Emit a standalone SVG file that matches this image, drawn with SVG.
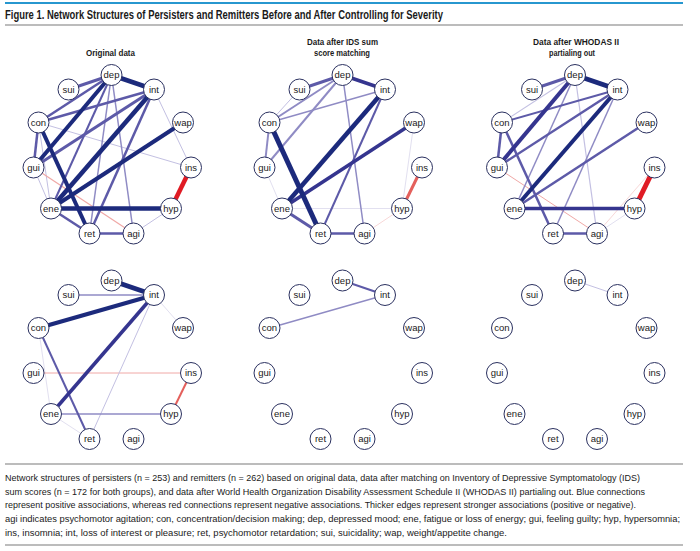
<svg xmlns="http://www.w3.org/2000/svg" width="700" height="551" viewBox="0 0 700 551">
<defs>
<style>
.bg{fill:#ffffff}
.title{font-family:"Liberation Sans Narrow","Liberation Sans",Arial,sans-serif;font-weight:bold;font-size:12px;fill:#1a1a1a}
.head{font-family:"Liberation Sans Narrow","Liberation Sans",Arial,sans-serif;font-weight:bold;font-size:9.5px;fill:#1a1a1a;text-anchor:middle}
.cap{font-family:"Liberation Sans Narrow","Liberation Sans",Arial,sans-serif;font-size:9px;fill:#1a1a1a}
.node circle{fill:#ffffff;stroke:#2b3160;stroke-width:1}
.node text{font-family:"Liberation Sans Narrow","Liberation Sans",Arial,sans-serif;font-size:9.5px;fill:#1a1a1a;text-anchor:middle}
.connectors line{fill:none;stroke-linecap:butt}
.e1{stroke:#1c2a7c}
.e2{stroke:#35358f}
.e3{stroke:#5d5aa8}
.e4{stroke:#8f8bc4}
.e5{stroke:#c3c0e2}
.e6{stroke:#e2e0f0}
.r1{stroke:#e01b24}
.r2{stroke:#e4605c}
.r3{stroke:#f0a8a6}
.r4{stroke:#f8d8d8}
.rule{stroke:#7a7a7a;stroke-width:1.2}
</style>
</defs>
<rect class="bg" x="0" y="0" width="700" height="551"/>
<line x1="5" y1="3" x2="683" y2="3" stroke="#2797cf" stroke-width="2"/>
<text class="title" x="5" y="18.5" textLength="438" lengthAdjust="spacingAndGlyphs">Figure 1. Network Structures of Persisters and Remitters Before and After Controlling for Severity</text>
<line class="rule" x1="5" y1="25" x2="683" y2="25" stroke-width="1.5"/>
<text class="head" x="110.5" y="56" textLength="49" lengthAdjust="spacingAndGlyphs">Original data</text>
<text class="head" x="342.5" y="45" textLength="71" lengthAdjust="spacingAndGlyphs">Data after IDS sum</text>
<text class="head" x="342" y="56" textLength="56" lengthAdjust="spacingAndGlyphs">score matching</text>
<text class="head" x="576" y="45" textLength="86" lengthAdjust="spacingAndGlyphs">Data after WHODAS II</text>
<text class="head" x="572" y="56" textLength="46" lengthAdjust="spacingAndGlyphs">partialing out</text>

<!-- Network 1: original data, persisters -->
<g id="net1" transform="translate(0,0)">
<g class="connectors">
<line class="e5" x1="154" y1="89.5" x2="191" y2="167.5" stroke-width="1"/>
<line class="e5" x1="38.5" y1="122.5" x2="191" y2="167.5" stroke-width="1"/>
<line class="e5" x1="38.5" y1="122.5" x2="51" y2="208.5" stroke-width="1"/>
<line class="e5" x1="33.5" y1="167.5" x2="51" y2="208.5" stroke-width="1"/>
<line class="e5" x1="171" y1="208.5" x2="133.5" y2="233.5" stroke-width="1"/>
<line class="r3" x1="33.5" y1="167.5" x2="133.5" y2="233.5" stroke-width="1.2"/>
<line class="e4" x1="111.5" y1="75" x2="133.5" y2="233.5" stroke-width="1.5"/>
<line class="e4" x1="111.5" y1="75" x2="89.5" y2="233.5" stroke-width="1.5"/>
<line class="e3" x1="111.5" y1="75" x2="51" y2="208.5" stroke-width="2"/>
<line class="e3" x1="111.5" y1="75" x2="68.5" y2="89.5" stroke-width="3"/>
<line class="e3" x1="111.5" y1="75" x2="38.5" y2="122.5" stroke-width="2.5"/>
<line class="e3" x1="154" y1="89.5" x2="38.5" y2="122.5" stroke-width="2.5"/>
<line class="e3" x1="154" y1="89.5" x2="33.5" y2="167.5" stroke-width="3"/>
<line class="e3" x1="154" y1="89.5" x2="89.5" y2="233.5" stroke-width="2.5"/>
<line class="e3" x1="38.5" y1="122.5" x2="33.5" y2="167.5" stroke-width="2.5"/>
<line class="e3" x1="51" y1="208.5" x2="89.5" y2="233.5" stroke-width="2.5"/>
<line class="e3" x1="89.5" y1="233.5" x2="133.5" y2="233.5" stroke-width="2.5"/>
<line class="e1" x1="111.5" y1="75" x2="154" y2="89.5" stroke-width="4.5"/>
<line class="e1" x1="111.5" y1="75" x2="33.5" y2="167.5" stroke-width="4"/>
<line class="e1" x1="154" y1="89.5" x2="51" y2="208.5" stroke-width="4.5"/>
<line class="e1" x1="183" y1="122.5" x2="51" y2="208.5" stroke-width="4"/>
<line class="e1" x1="38.5" y1="122.5" x2="89.5" y2="233.5" stroke-width="4"/>
<line class="e1" x1="51" y1="208.5" x2="171" y2="208.5" stroke-width="4.5"/>
<line class="r1" x1="191" y1="167.5" x2="171" y2="208.5" stroke-width="4.5"/>
</g>
<g id="n1-dep" class="node"><circle cx="111.5" cy="75" r="10.5"/><text x="111.5" y="78.3">dep</text></g>
<g id="n1-sui" class="node"><circle cx="68.5" cy="89.5" r="10.5"/><text x="68.5" y="92.8">sui</text></g>
<g id="n1-int" class="node"><circle cx="154" cy="89.5" r="10.5"/><text x="154" y="92.8">int</text></g>
<g id="n1-con" class="node"><circle cx="38.5" cy="122.5" r="10.5"/><text x="38.5" y="125.8">con</text></g>
<g id="n1-wap" class="node"><circle cx="183" cy="122.5" r="10.5"/><text x="183" y="125.8">wap</text></g>
<g id="n1-gui" class="node"><circle cx="33.5" cy="167.5" r="10.5"/><text x="33.5" y="170.8">gui</text></g>
<g id="n1-ins" class="node"><circle cx="191" cy="167.5" r="10.5"/><text x="191" y="170.8">ins</text></g>
<g id="n1-ene" class="node"><circle cx="51" cy="208.5" r="10.5"/><text x="51" y="211.8">ene</text></g>
<g id="n1-hyp" class="node"><circle cx="171" cy="208.5" r="10.5"/><text x="171" y="211.8">hyp</text></g>
<g id="n1-ret" class="node"><circle cx="89.5" cy="233.5" r="10.5"/><text x="89.5" y="236.8">ret</text></g>
<g id="n1-agi" class="node"><circle cx="133.5" cy="233.5" r="10.5"/><text x="133.5" y="236.8">agi</text></g>
</g>

<!-- Network 2: IDS matched, persisters -->
<g id="net2" transform="translate(231,0)">
<g class="connectors">
<line class="e6" x1="183" y1="122.5" x2="171" y2="208.5" stroke-width="1"/>
<line class="e6" x1="51" y1="208.5" x2="171" y2="208.5" stroke-width="1"/>
<line class="e6" x1="33.5" y1="167.5" x2="51" y2="208.5" stroke-width="1"/>
<line class="r4" x1="171" y1="208.5" x2="133.5" y2="233.5" stroke-width="1"/>
<line class="e5" x1="68.5" y1="89.5" x2="38.5" y2="122.5" stroke-width="1"/>
<line class="e4" x1="111.5" y1="75" x2="133.5" y2="233.5" stroke-width="1.5"/>
<line class="e4" x1="154" y1="89.5" x2="38.5" y2="122.5" stroke-width="1.5"/>
<line class="e4" x1="111.5" y1="75" x2="38.5" y2="122.5" stroke-width="2"/>
<line class="e4" x1="111.5" y1="75" x2="33.5" y2="167.5" stroke-width="2"/>
<line class="e4" x1="38.5" y1="122.5" x2="33.5" y2="167.5" stroke-width="2"/>
<line class="e3" x1="154" y1="89.5" x2="89.5" y2="233.5" stroke-width="2"/>
<line class="e3" x1="111.5" y1="75" x2="68.5" y2="89.5" stroke-width="3"/>
<line class="e3" x1="89.5" y1="233.5" x2="133.5" y2="233.5" stroke-width="2.5"/>
<line class="e3" x1="51" y1="208.5" x2="89.5" y2="233.5" stroke-width="3"/>
<line class="e2" x1="183" y1="122.5" x2="51" y2="208.5" stroke-width="3.5"/>
<line class="e2" x1="111.5" y1="75" x2="154" y2="89.5" stroke-width="3.5"/>
<line class="e1" x1="154" y1="89.5" x2="51" y2="208.5" stroke-width="4.5"/>
<line class="e1" x1="38.5" y1="122.5" x2="89.5" y2="233.5" stroke-width="5"/>
<line class="r2" x1="191" y1="167.5" x2="171" y2="208.5" stroke-width="3"/>
</g>
<g id="n2-dep" class="node"><circle cx="111.5" cy="75" r="10.5"/><text x="111.5" y="78.3">dep</text></g>
<g id="n2-sui" class="node"><circle cx="68.5" cy="89.5" r="10.5"/><text x="68.5" y="92.8">sui</text></g>
<g id="n2-int" class="node"><circle cx="154" cy="89.5" r="10.5"/><text x="154" y="92.8">int</text></g>
<g id="n2-con" class="node"><circle cx="38.5" cy="122.5" r="10.5"/><text x="38.5" y="125.8">con</text></g>
<g id="n2-wap" class="node"><circle cx="183" cy="122.5" r="10.5"/><text x="183" y="125.8">wap</text></g>
<g id="n2-gui" class="node"><circle cx="33.5" cy="167.5" r="10.5"/><text x="33.5" y="170.8">gui</text></g>
<g id="n2-ins" class="node"><circle cx="191" cy="167.5" r="10.5"/><text x="191" y="170.8">ins</text></g>
<g id="n2-ene" class="node"><circle cx="51" cy="208.5" r="10.5"/><text x="51" y="211.8">ene</text></g>
<g id="n2-hyp" class="node"><circle cx="171" cy="208.5" r="10.5"/><text x="171" y="211.8">hyp</text></g>
<g id="n2-ret" class="node"><circle cx="89.5" cy="233.5" r="10.5"/><text x="89.5" y="236.8">ret</text></g>
<g id="n2-agi" class="node"><circle cx="133.5" cy="233.5" r="10.5"/><text x="133.5" y="236.8">agi</text></g>
</g>

<!-- Network 3: WHODAS partialed, persisters -->
<g id="net3" transform="translate(463.5,0)">
<g class="connectors">
<line class="e6" x1="171" y1="208.5" x2="133.5" y2="233.5" stroke-width="1"/>
<line class="r4" x1="191" y1="167.5" x2="133.5" y2="233.5" stroke-width="1"/>
<line class="r3" x1="33.5" y1="167.5" x2="133.5" y2="233.5" stroke-width="1"/>
<line class="e5" x1="111.5" y1="75" x2="38.5" y2="122.5" stroke-width="1.2"/>
<line class="e5" x1="111.5" y1="75" x2="133.5" y2="233.5" stroke-width="1.2"/>
<line class="e4" x1="111.5" y1="75" x2="51" y2="208.5" stroke-width="1.5"/>
<line class="e4" x1="154" y1="89.5" x2="89.5" y2="233.5" stroke-width="1.5"/>
<line class="e3" x1="154" y1="89.5" x2="38.5" y2="122.5" stroke-width="2"/>
<line class="e3" x1="154" y1="89.5" x2="33.5" y2="167.5" stroke-width="2.5"/>
<line class="e3" x1="38.5" y1="122.5" x2="33.5" y2="167.5" stroke-width="2.5"/>
<line class="e3" x1="38.5" y1="122.5" x2="89.5" y2="233.5" stroke-width="2.5"/>
<line class="e3" x1="183" y1="122.5" x2="51" y2="208.5" stroke-width="2.5"/>
<line class="e3" x1="89.5" y1="233.5" x2="133.5" y2="233.5" stroke-width="2.5"/>
<line class="e3" x1="111.5" y1="75" x2="68.5" y2="89.5" stroke-width="3"/>
<line class="e2" x1="51" y1="208.5" x2="171" y2="208.5" stroke-width="3.5"/>
<line class="e2" x1="111.5" y1="75" x2="33.5" y2="167.5" stroke-width="4"/>
<line class="e1" x1="154" y1="89.5" x2="51" y2="208.5" stroke-width="4"/>
<line class="e1" x1="111.5" y1="75" x2="154" y2="89.5" stroke-width="5"/>
<line class="r1" x1="191" y1="167.5" x2="171" y2="208.5" stroke-width="5"/>
</g>
<g id="n3-dep" class="node"><circle cx="111.5" cy="75" r="10.5"/><text x="111.5" y="78.3">dep</text></g>
<g id="n3-sui" class="node"><circle cx="68.5" cy="89.5" r="10.5"/><text x="68.5" y="92.8">sui</text></g>
<g id="n3-int" class="node"><circle cx="154" cy="89.5" r="10.5"/><text x="154" y="92.8">int</text></g>
<g id="n3-con" class="node"><circle cx="38.5" cy="122.5" r="10.5"/><text x="38.5" y="125.8">con</text></g>
<g id="n3-wap" class="node"><circle cx="183" cy="122.5" r="10.5"/><text x="183" y="125.8">wap</text></g>
<g id="n3-gui" class="node"><circle cx="33.5" cy="167.5" r="10.5"/><text x="33.5" y="170.8">gui</text></g>
<g id="n3-ins" class="node"><circle cx="191" cy="167.5" r="10.5"/><text x="191" y="170.8">ins</text></g>
<g id="n3-ene" class="node"><circle cx="51" cy="208.5" r="10.5"/><text x="51" y="211.8">ene</text></g>
<g id="n3-hyp" class="node"><circle cx="171" cy="208.5" r="10.5"/><text x="171" y="211.8">hyp</text></g>
<g id="n3-ret" class="node"><circle cx="89.5" cy="233.5" r="10.5"/><text x="89.5" y="236.8">ret</text></g>
<g id="n3-agi" class="node"><circle cx="133.5" cy="233.5" r="10.5"/><text x="133.5" y="236.8">agi</text></g>
</g>

<!-- Network 4: original data, remitters -->
<g id="net4" transform="translate(0,205.5)">
<g class="connectors">
<line class="e6" x1="154" y1="89.5" x2="183" y2="122.5" stroke-width="1"/>
<line class="e6" x1="38.5" y1="122.5" x2="51" y2="208.5" stroke-width="1"/>
<line class="e6" x1="51" y1="208.5" x2="89.5" y2="233.5" stroke-width="1"/>
<line class="r3" x1="33.5" y1="167.5" x2="191" y2="167.5" stroke-width="1"/>
<line class="e5" x1="154" y1="89.5" x2="89.5" y2="233.5" stroke-width="1"/>
<line class="e4" x1="68.5" y1="89.5" x2="154" y2="89.5" stroke-width="1.5"/>
<line class="e4" x1="51" y1="208.5" x2="171" y2="208.5" stroke-width="1.5"/>
<line class="e3" x1="38.5" y1="122.5" x2="89.5" y2="233.5" stroke-width="2"/>
<line class="r2" x1="191" y1="167.5" x2="171" y2="208.5" stroke-width="2"/>
<line class="e2" x1="154" y1="89.5" x2="51" y2="208.5" stroke-width="3.5"/>
<line class="e1" x1="154" y1="89.5" x2="38.5" y2="122.5" stroke-width="4"/>
<line class="e1" x1="111.5" y1="75" x2="154" y2="89.5" stroke-width="5"/>
</g>
<g id="n4-dep" class="node"><circle cx="111.5" cy="75" r="10.5"/><text x="111.5" y="78.3">dep</text></g>
<g id="n4-sui" class="node"><circle cx="68.5" cy="89.5" r="10.5"/><text x="68.5" y="92.8">sui</text></g>
<g id="n4-int" class="node"><circle cx="154" cy="89.5" r="10.5"/><text x="154" y="92.8">int</text></g>
<g id="n4-con" class="node"><circle cx="38.5" cy="122.5" r="10.5"/><text x="38.5" y="125.8">con</text></g>
<g id="n4-wap" class="node"><circle cx="183" cy="122.5" r="10.5"/><text x="183" y="125.8">wap</text></g>
<g id="n4-gui" class="node"><circle cx="33.5" cy="167.5" r="10.5"/><text x="33.5" y="170.8">gui</text></g>
<g id="n4-ins" class="node"><circle cx="191" cy="167.5" r="10.5"/><text x="191" y="170.8">ins</text></g>
<g id="n4-ene" class="node"><circle cx="51" cy="208.5" r="10.5"/><text x="51" y="211.8">ene</text></g>
<g id="n4-hyp" class="node"><circle cx="171" cy="208.5" r="10.5"/><text x="171" y="211.8">hyp</text></g>
<g id="n4-ret" class="node"><circle cx="89.5" cy="233.5" r="10.5"/><text x="89.5" y="236.8">ret</text></g>
<g id="n4-agi" class="node"><circle cx="133.5" cy="233.5" r="10.5"/><text x="133.5" y="236.8">agi</text></g>
</g>

<!-- Network 5: IDS matched, remitters -->
<g id="net5" transform="translate(231,205.5)">
<g class="connectors">
<line class="e4" x1="154" y1="89.5" x2="38.5" y2="122.5" stroke-width="1.5"/>
<line class="e3" x1="111.5" y1="75" x2="154" y2="89.5" stroke-width="2"/>
</g>
<g id="n5-dep" class="node"><circle cx="111.5" cy="75" r="10.5"/><text x="111.5" y="78.3">dep</text></g>
<g id="n5-sui" class="node"><circle cx="68.5" cy="89.5" r="10.5"/><text x="68.5" y="92.8">sui</text></g>
<g id="n5-int" class="node"><circle cx="154" cy="89.5" r="10.5"/><text x="154" y="92.8">int</text></g>
<g id="n5-con" class="node"><circle cx="38.5" cy="122.5" r="10.5"/><text x="38.5" y="125.8">con</text></g>
<g id="n5-wap" class="node"><circle cx="183" cy="122.5" r="10.5"/><text x="183" y="125.8">wap</text></g>
<g id="n5-gui" class="node"><circle cx="33.5" cy="167.5" r="10.5"/><text x="33.5" y="170.8">gui</text></g>
<g id="n5-ins" class="node"><circle cx="191" cy="167.5" r="10.5"/><text x="191" y="170.8">ins</text></g>
<g id="n5-ene" class="node"><circle cx="51" cy="208.5" r="10.5"/><text x="51" y="211.8">ene</text></g>
<g id="n5-hyp" class="node"><circle cx="171" cy="208.5" r="10.5"/><text x="171" y="211.8">hyp</text></g>
<g id="n5-ret" class="node"><circle cx="89.5" cy="233.5" r="10.5"/><text x="89.5" y="236.8">ret</text></g>
<g id="n5-agi" class="node"><circle cx="133.5" cy="233.5" r="10.5"/><text x="133.5" y="236.8">agi</text></g>
</g>

<!-- Network 6: WHODAS partialed, remitters -->
<g id="net6" transform="translate(463.5,205.5)">
<g class="connectors">
<line class="e5" x1="111.5" y1="75" x2="154" y2="89.5" stroke-width="1"/>
</g>
<g id="n6-dep" class="node"><circle cx="111.5" cy="75" r="10.5"/><text x="111.5" y="78.3">dep</text></g>
<g id="n6-sui" class="node"><circle cx="68.5" cy="89.5" r="10.5"/><text x="68.5" y="92.8">sui</text></g>
<g id="n6-int" class="node"><circle cx="154" cy="89.5" r="10.5"/><text x="154" y="92.8">int</text></g>
<g id="n6-con" class="node"><circle cx="38.5" cy="122.5" r="10.5"/><text x="38.5" y="125.8">con</text></g>
<g id="n6-wap" class="node"><circle cx="183" cy="122.5" r="10.5"/><text x="183" y="125.8">wap</text></g>
<g id="n6-gui" class="node"><circle cx="33.5" cy="167.5" r="10.5"/><text x="33.5" y="170.8">gui</text></g>
<g id="n6-ins" class="node"><circle cx="191" cy="167.5" r="10.5"/><text x="191" y="170.8">ins</text></g>
<g id="n6-ene" class="node"><circle cx="51" cy="208.5" r="10.5"/><text x="51" y="211.8">ene</text></g>
<g id="n6-hyp" class="node"><circle cx="171" cy="208.5" r="10.5"/><text x="171" y="211.8">hyp</text></g>
<g id="n6-ret" class="node"><circle cx="89.5" cy="233.5" r="10.5"/><text x="89.5" y="236.8">ret</text></g>
<g id="n6-agi" class="node"><circle cx="133.5" cy="233.5" r="10.5"/><text x="133.5" y="236.8">agi</text></g>
</g>

<line class="rule" x1="5" y1="464" x2="683" y2="464"/>
<text class="cap" x="5" y="480.5" textLength="635" lengthAdjust="spacingAndGlyphs">Network structures of persisters (n = 253) and remitters (n = 262) based on original data, data after matching on Inventory of Depressive Symptomatology (IDS)</text>
<text class="cap" x="5" y="494.5" textLength="640" lengthAdjust="spacingAndGlyphs">sum scores (n = 172 for both groups), and data after World Health Organization Disability Assessment Schedule II (WHODAS II) partialing out. Blue connections</text>
<text class="cap" x="5" y="508" textLength="631" lengthAdjust="spacingAndGlyphs">represent positive associations, whereas red connections represent negative associations. Thicker edges represent stronger associations (positive or negative).</text>
<text class="cap" x="5" y="521.5" textLength="675" lengthAdjust="spacingAndGlyphs">agi indicates psychomotor agitation; con, concentration/decision making; dep, depressed mood; ene, fatigue or loss of energy; gui, feeling guilty; hyp, hypersomnia;</text>
<text class="cap" x="5" y="535.5" textLength="502" lengthAdjust="spacingAndGlyphs">ins, insomnia; int, loss of interest or pleasure; ret, psychomotor retardation; sui, suicidality; wap, weight/appetite change.</text>
<line class="rule" x1="5" y1="545" x2="683" y2="545"/>
</svg>
